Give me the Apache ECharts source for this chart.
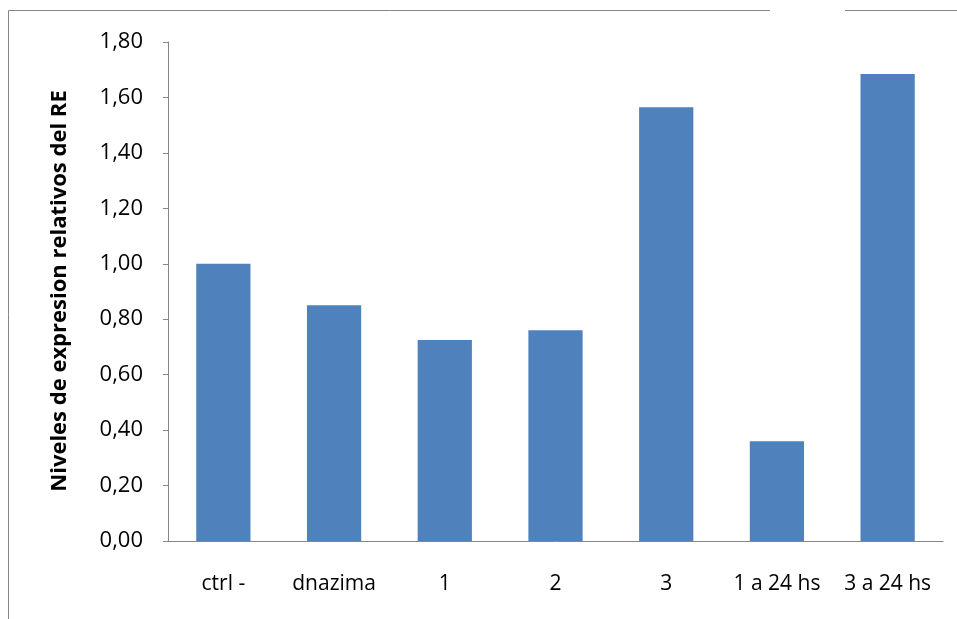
<!DOCTYPE html>
<html><head><meta charset="utf-8">
<script src="https://cdn.jsdelivr.net/npm/echarts@6/dist/echarts.min.js"></script>
<style>html,body{margin:0;padding:0;background:#fff}#c{width:957px;height:619px}</style>
</head><body><div id="c"></div>
<script>
const categories = ['ctrl -', 'dnazima', '1', '2', '3', '1 a 24 hs', '3 a 24 hs'];
const values = [1.00, 0.85, 0.725, 0.76, 1.565, 0.36, 1.685];
const yTitle = 'Niveles de expresion relativos del RE';
const chart = echarts.init(document.getElementById('c'), null, {renderer: 'canvas'});
const font = 'Open Sans, Noto Sans, sans-serif';
chart.setOption({
  animation: false,
  grid: {left: 168, top: 42, width: 775, height: 499, containLabel: false},
  xAxis: {
    type: 'category', data: categories,
    axisLine: {lineStyle: {color: '#868686', width: 1}},
    axisTick: {show: false},
    axisLabel: {color: '#000', fontSize: 21, fontFamily: font, margin: 33, interval: 0}
  },
  yAxis: {
    type: 'value', min: 0, max: 1.8, interval: 0.2,
    axisLine: {show: true, lineStyle: {color: '#868686', width: 1}},
    axisTick: {show: true, length: 5, lineStyle: {color: '#868686'}},
    splitLine: {show: false},
    axisLabel: {color: '#000', fontSize: 22, fontFamily: font, margin: 25,
      formatter: v => v.toFixed(2).replace('.', ',')}
  },
  series: [{
    type: 'bar', data: values, barWidth: '49%',
    itemStyle: {color: '#4F81BD'}
  }],
  graphic: [
    {type: 'line', shape: {x1: 8.5, y1: 10.5, x2: 770, y2: 10.5}, style: {stroke: '#868686', lineWidth: 1}},
    {type: 'line', shape: {x1: 845, y1: 10.5, x2: 957, y2: 10.5}, style: {stroke: '#868686', lineWidth: 1}},
    {type: 'line', shape: {x1: 8.5, y1: 10.5, x2: 8.5, y2: 619}, style: {stroke: '#868686', lineWidth: 1}},
    {type: 'text', x: 60, y: 291, rotation: Math.PI / 2,
      style: {text: yTitle, fill: '#000', font: 'bold 22px ' + font, align: 'center', verticalAlign: 'middle'}}
  ]
});
</script></body></html>
